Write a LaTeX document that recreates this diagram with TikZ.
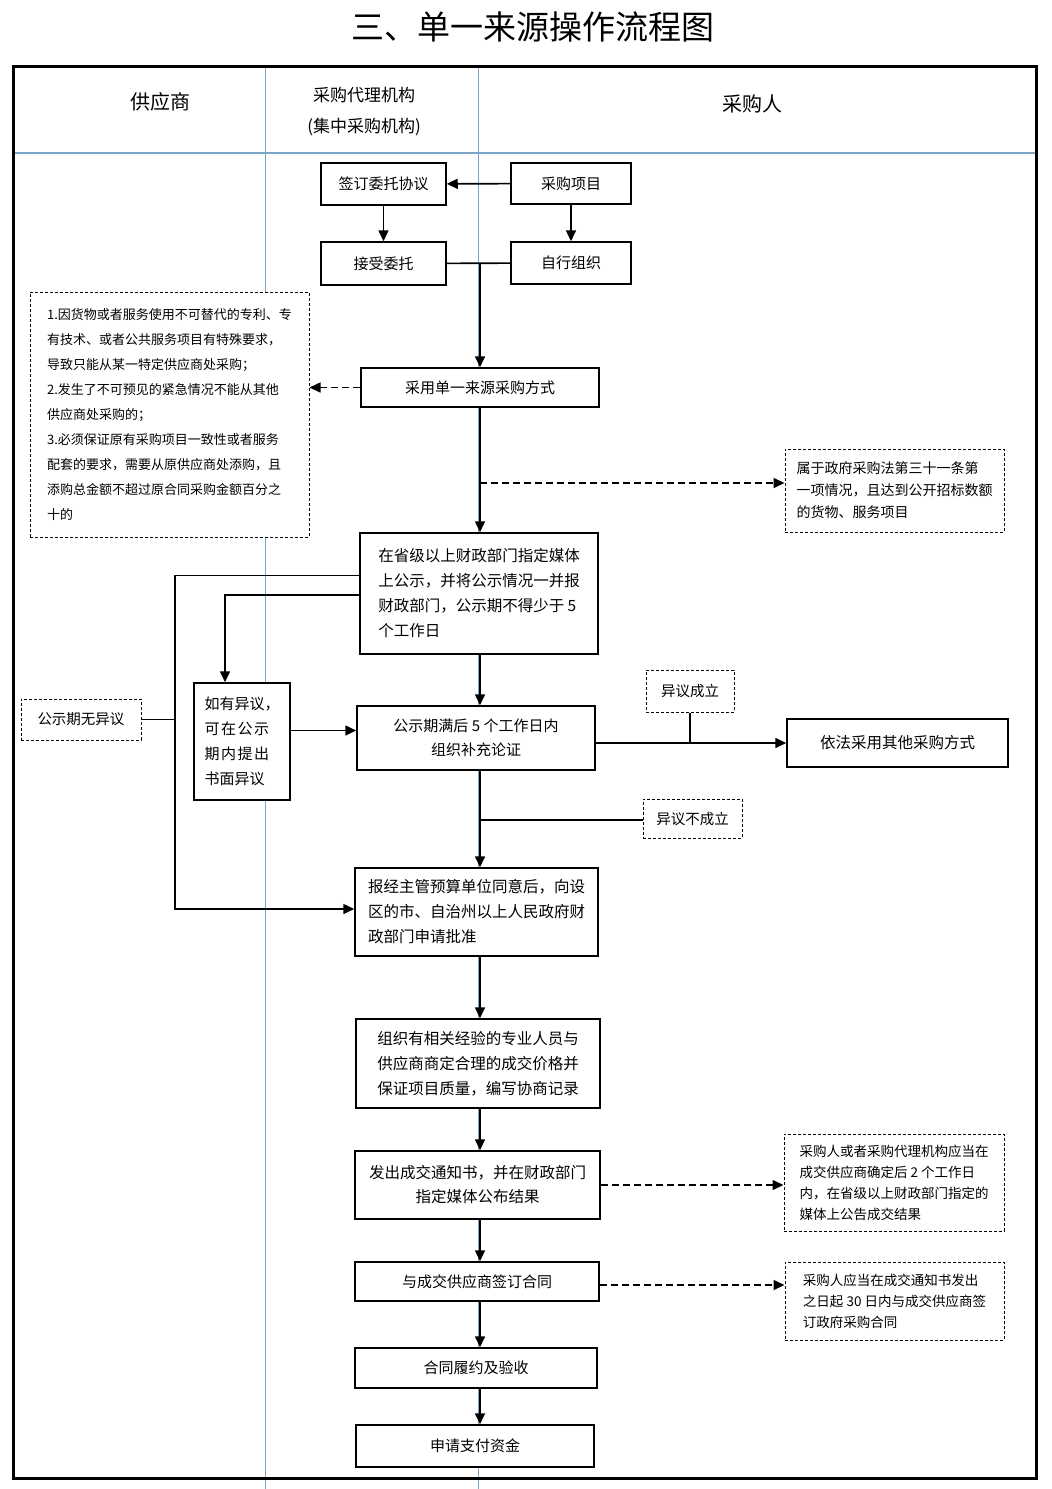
\documentclass[tikz,border=0pt]{standalone}
\usepackage{fontspec}
\setmainfont{Noto Sans CJK SC}
\usetikzlibrary{arrows.meta}
\definecolor{lanecol}{RGB}{120,165,200}

\begin{document}
\begin{tikzpicture}[x=1pt,y=-1pt]
	\tikzstyle{box}=[draw=black,line width=1.5pt,fill=white,inner sep=0pt,align=center,font=\fontsize{15}{25}\selectfont]
	\tikzstyle{note}=[draw=black,line width=1pt,dash pattern=on 3pt off 2pt,fill=white,inner sep=0pt,align=left,font=\fontsize{13.5}{21}\selectfont]
	\tikzstyle{lane}=[draw=lanecol,line width=0.8pt]
	\tikzstyle{arr}=[line width=1.6pt,-{Triangle[length=11pt,width=10pt]}]
	\tikzstyle{darr}=[arr,dash pattern=on 7pt off 4pt]
	\useasboundingbox[fill=white] (0,0) rectangle (1052,1489);
	% lanes and frame
	\draw[lane] (265,66) -- (265,1489);
	\draw[lane] (478,66) -- (478,1489);
	\draw[lane,line width=1.5pt] (13,153) -- (1036,153);
	\node[font=\fontsize{33}{36}\selectfont] (title) at (533,27) {三、单一来源操作流程图};
	\node[font=\fontsize{20}{24}\selectfont] (h1) at (160,102) {供应商};
	\node[font=\fontsize{17}{31}\selectfont,align=center] (h2) at (364,111.5) {采购代理机构\\(集中采购机构)};
	\node[font=\fontsize{20}{24}\selectfont] (h3) at (752,104) {采购人};
	\coordinate (axis) at (480,0);
	% boxes
	\node[box,minimum width=125,minimum height=42] (sign) at (383.5,184) {签订委托协议};
	\node[box,minimum width=120,minimum height=41] (proj) at (571,183.5) {采购项目};
	\node[box,minimum width=125,minimum height=43] (accept) at (383.5,263.5) {接受委托};
	\node[box,minimum width=120,minimum height=42] (self) at (571,263) {自行组织};
	\node[note,minimum width=279,minimum height=245,font=\fontsize{13}{25}\selectfont] (reasons) at (169.5,414.5)
		{1.因货物或者服务使用不可替代的专利、专\\有技术、或者公共服务项目有特殊要求，\\导致只能从某一特定供应商处采购；\\2.发生了不可预见的紧急情况不能从其他\\供应商处采购的；\\3.必须保证原有采购项目一致性或者服务\\配套的要求，需要从原供应商处添购，且\\添购总金额不超过原合同采购金额百分之\\十的};
	\node[box,minimum width=238,minimum height=39] (single) at (480,387.5) {采用单一来源采购方式};
	\node[note,minimum width=219,minimum height=83,font=\fontsize{14}{22}\selectfont] (law) at (894.5,490.5)
		{属于政府采购法第三十一条第\\一项情况，且达到公开招标数额\\的货物、服务项目};
	\node[box,minimum width=238,minimum height=121,align=left,font=\fontsize{15.5}{25}\selectfont] (pub) at (479,593.5)
		{在省级以上财政部门指定媒体\\上公示，并将公示情况一并报\\财政部门，公示期不得少于 5\\个工作日};
	\node[box,minimum width=96,minimum height=117,align=left] (objbox) at (242,741.5)
		{如有异议，\\\makebox[4.3em][s]{可\hfill 在\hfill 公\hfill 示}\\\makebox[4.3em][s]{期\hfill 内\hfill 提\hfill 出}\\书面异议};
	\node[note,minimum width=120,minimum height=41,font=\fontsize{14.5}{20}\selectfont] (noobj) at (81,719.5) {公示期无异议};
	\node[box,minimum width=238,minimum height=64,font=\fontsize{15}{24}\selectfont] (demo) at (476,738)
		{公示期满后 5 个工作日内\\组织补充论证};
	\node[box,minimum width=221,minimum height=48,font=\fontsize{15.5}{20}\selectfont] (other) at (897.5,743) {依法采用其他采购方式};
	\node[note,minimum width=88,minimum height=42,font=\fontsize{14.5}{20}\selectfont] (ok) at (690,691) {异议成立};
	\node[note,minimum width=99,minimum height=39,font=\fontsize{14.5}{20}\selectfont] (notok) at (692.5,818.5) {异议不成立};
	\node[box,minimum width=243,minimum height=88,align=left,font=\fontsize{15.5}{25}\selectfont] (approve) at (476.5,912)
		{报经主管预算单位同意后，向设\\区的市、自治州以上人民政府财\\政部门申请批准};
	\node[box,minimum width=244,minimum height=89,align=left,font=\fontsize{15.5}{25}\selectfont] (nego) at (478,1063.5)
		{组织有相关经验的专业人员与\\供应商商定合理的成交价格并\\保证项目质量，编写协商记录};
	\node[box,minimum width=245,minimum height=68,font=\fontsize{15.5}{24}\selectfont] (notice) at (477.5,1185)
		{发出成交通知书，并在财政部门\\指定媒体公布结果};
	\node[note,minimum width=220,minimum height=97] (noticenote) at (894,1182.5)
		{采购人或者采购代理机构应当在\\成交供应商确定后 2 个工作日\\内，在省级以上财政部门指定的\\媒体上公告成交结果};
	\node[box,minimum width=244,minimum height=39] (contract) at (477,1281.5) {与成交供应商签订合同};
	\node[note,minimum width=219,minimum height=78] (contractnote) at (894.5,1301)
		{采购人应当在成交通知书发出\\之日起 30 日内与成交供应商签\\订政府采购合同};
	\node[box,minimum width=242,minimum height=40] (perform) at (476,1368) {合同履约及验收};
	\node[box,minimum width=238,minimum height=42] (pay) at (475,1446) {申请支付资金};
	% connectors
	\draw[arr] (proj) -- (sign);
	\draw[arr] (sign) -- (accept);
	\draw[arr] (proj) -- (self);
	\draw[line width=1.6pt] (accept) -- (self);
	\draw[arr] (accept -| axis) -- (single.north -| axis);
	\draw[darr] (single.west) -- (single.west -| reasons.east);
	\coordinate (lawpt) at (480,483);
	\draw[darr] (lawpt) -- (lawpt -| law.west);
	\draw[arr] (single.south -| axis) -- (pub.north -| axis);
	\draw[arr] ([yshift=18pt]pub.west) -| ([xshift=-179pt,yshift=3pt]approve.west) -- ([yshift=3pt]approve.west);
	\draw[arr] ([yshift=-1.5pt]pub.west) -| ([xshift=-17pt]objbox.north);
	\coordinate (bus) at (176,722);
	\draw[line width=1.6pt] (noobj.east) -- (noobj.east -| bus);
	\draw[arr] ([yshift=11pt]objbox.east) -- ([yshift=11pt]objbox.east -| demo.west);
	\draw[arr] (pub.south -| axis) -- (demo.north -| axis);
	\draw[arr] (demo.east |- other) -- (other);
	\draw[line width=1.6pt] (ok) -- (ok |- other);
	\draw[arr] (demo.south -| axis) -- (approve.north -| axis);
	\coordinate (nk) at (480,820);
	\draw[line width=1.6pt] (nk) -- (nk -| notok.west);
	\draw[arr] (approve.south -| axis) -- (nego.north -| axis);
	\draw[arr] (nego.south -| axis) -- (notice.north -| axis);
	\draw[darr] (notice.east) -- (notice.east -| noticenote.west);
	\draw[arr] (notice.south -| axis) -- (contract.north -| axis);
	\draw[darr] ([yshift=-3.5pt]contract.east) -- ([yshift=-3.5pt]contract.east -| contractnote.west);
	\draw[arr] (contract.south -| axis) -- (perform.north -| axis);
	\draw[arr] (perform.south -| axis) -- (pay.north -| axis);
	\draw[line width=3pt] (13,66) rectangle (1036,1478);
\end{tikzpicture}
\end{document}
